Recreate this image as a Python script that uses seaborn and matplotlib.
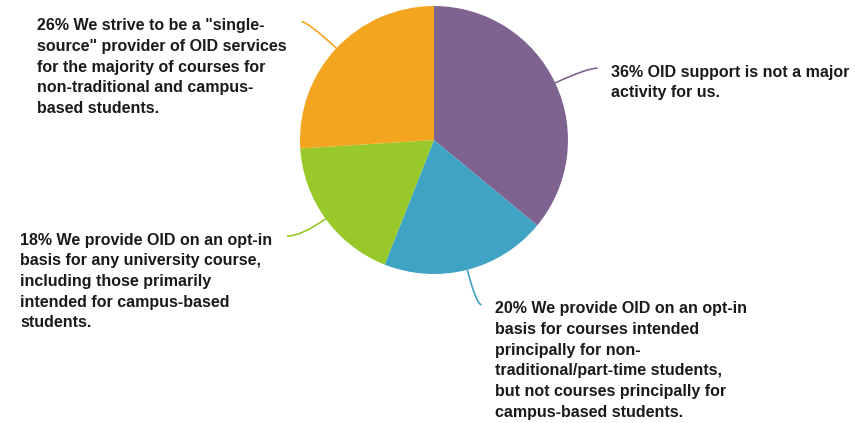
import numpy as np
import matplotlib
matplotlib.use('Agg')
import matplotlib.pyplot as plt
from matplotlib.path import Path
from matplotlib.patches import PathPatch
import seaborn as sns

# ------- data ------------------------------- #
shares = [36, 20, 18, 26]
answers = ['OID support is not a major\nactivity for us.',
           'We provide OID on an opt-in\nbasis for courses intended\nprincipally for non-\n'
           'traditional/part-time students,\nbut not courses principally for\ncampus-based students.',
           'We provide OID on an opt-in\nbasis for any university course,\nincluding those primarily\n'
           'intended for campus-based\nstudents.',
           'We strive to be a "single-\nsource" provider of OID services\nfor the majority of courses for\n'
           'non-traditional and campus-\nbased students.']
colors = ['#7e6391', '#3fa3c4', '#98c82a', '#f4a51f']

sns.set_theme(style='white')
plt.rcParams['font.family'] = ['Liberation Sans', 'DejaVu Sans']

fig = plt.figure(figsize=(8.59, 4.23), dpi=100)
ax = fig.add_axes([0, 0, 1, 1])

wedges, _ = ax.pie(shares, colors=colors, startangle=90, counterclock=False,
                   radius=1, center=(0, 0), wedgeprops={'linewidth': 0})

# pie() resets limits, so set them afterwards
ax.set_xlim(-3.239, 3.172)
ax.set_ylim(-2.112, 1.045)
ax.set_aspect('equal')
ax.axis('off')

# leader line: (radial length factor, horizontal stub) per slice, text side
leaders = [(1.26, 0.08), (1.27, 0.04), (1.22, -0.11), (1.29, -0.05)]
total = sum(shares)
start = 90
for i, (w, share) in enumerate(zip(wedges, shares)):
    ang = np.deg2rad(start - (share / 2) / total * 360)
    start -= share / total * 360
    p0 = np.array([np.cos(ang), np.sin(ang)])
    rf, stub = leaders[i]
    ctrl = p0 * rf
    end = ctrl + np.array([stub, 0])
    path = Path([p0, ctrl, end], [Path.MOVETO, Path.CURVE3, Path.CURVE3])
    ax.add_patch(PathPatch(path, fc='none', ec=colors[i], lw=1.2))
    label = f'{share}% {answers[i]}'
    if stub > 0:
        ax.text(end[0] + 0.10, end[1] + 0.025, label, ha='left', va='top',
                fontsize=11.5, fontweight='bold', color='#1a1a1a', linespacing=1.47)
    else:
        ax.text(end[0] - 0.11, end[1] + 0.025, label, ha='right', va='top',
                multialignment='left', fontsize=11.5, fontweight='bold',
                color='#1a1a1a', linespacing=1.47)

fig.savefig('out.png', dpi=100)
